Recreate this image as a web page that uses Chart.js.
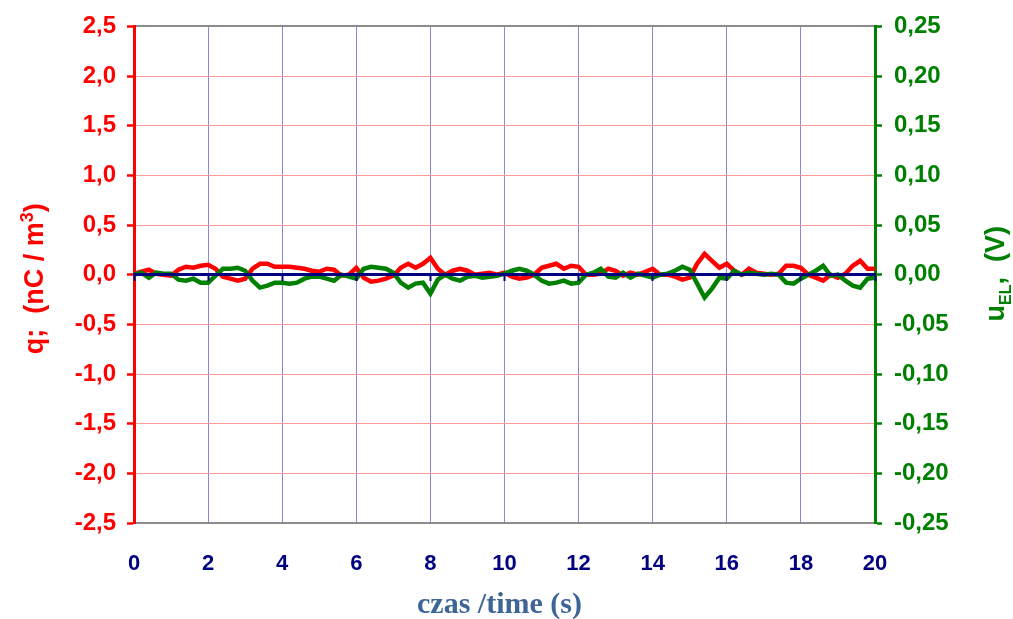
<!DOCTYPE html>
<html>
<head>
<meta charset="utf-8">
<script src="https://cdn.jsdelivr.net/npm/chart.js@4/dist/chart.umd.min.js"></script>
<style>
html, body { margin: 0; padding: 0; background: #fff; }
#wrap { width: 1013px; height: 619px; position: relative; }
</style>
</head>
<body>
<div id="wrap"><canvas id="chart"></canvas></div>
<script>
// sample times (s)
const times = [
    0, 0.2, 0.4, 0.6, 0.8, 1, 1.2, 1.4, 1.6, 1.8, 2, 2.2, 2.4, 2.6, 2.8, 3, 3.2, 3.4, 3.6, 3.8,
    4, 4.2, 4.4, 4.6, 4.8, 5, 5.2, 5.4, 5.6, 5.8, 6, 6.2, 6.4, 6.6, 6.8, 7, 7.2, 7.4, 7.6, 7.8,
    8, 8.2, 8.4, 8.6, 8.8, 9, 9.2, 9.4, 9.6, 9.8, 10, 10.2, 10.4, 10.6, 10.8, 11, 11.2, 11.4, 11.6, 11.8,
    12, 12.2, 12.4, 12.6, 12.8, 13, 13.2, 13.4, 13.6, 13.8, 14, 14.2, 14.4, 14.6, 14.8, 15, 15.2, 15.4, 15.6, 15.8,
    16, 16.2, 16.4, 16.6, 16.8, 17, 17.2, 17.4, 17.6, 17.8, 18, 18.2, 18.4, 18.6, 18.8, 19, 19.2, 19.4, 19.6, 19.8, 20
];
// q (nC/m3), red, left axis
const charge = [
    0.01, 0.03, 0.05, 0.01, 0.00, -0.01, 0.05, 0.08, 0.07, 0.09, 0.10, 0.06, -0.02, -0.04, -0.06, -0.04, 0.06, 0.11, 0.11, 0.08,
    0.08, 0.08, 0.07, 0.06, 0.04, 0.03, 0.06, 0.05, -0.01, 0.00, 0.07, -0.03, -0.07, -0.06, -0.04, -0.01, 0.07, 0.11, 0.07, 0.11,
    0.17, 0.06, 0.00, 0.04, 0.06, 0.04, 0.00, 0.01, 0.02, 0.00, 0.02, -0.02, -0.04, -0.03, 0.00, 0.07, 0.09, 0.11, 0.06, 0.09,
    0.08, 0.00, 0.00, 0.01, 0.06, 0.04, -0.01, 0.02, 0.00, 0.03, 0.06, 0.00, 0.00, -0.02, -0.05, -0.03, 0.11, 0.21, 0.14, 0.07,
    0.11, 0.04, 0.00, 0.06, 0.02, 0.01, 0.00, 0.01, 0.09, 0.09, 0.07, 0.00, -0.03, -0.06, 0.00, -0.03, 0.01, 0.09, 0.14, 0.06, 0.06
];
// uEL (V), green, right axis
const voltage = [
    0.000, 0.002, -0.003, 0.002, 0.001, 0.001, -0.005, -0.006, -0.004, -0.008, -0.008, -0.001, 0.006, 0.006, 0.007, 0.004, -0.006, -0.013, -0.011, -0.008,
    -0.008, -0.009, -0.008, -0.004, -0.002, -0.002, -0.004, -0.006, 0.000, -0.002, -0.004, 0.006, 0.008, 0.007, 0.006, 0.002, -0.008, -0.013, -0.009, -0.008,
    -0.019, -0.005, 0.000, -0.004, -0.006, -0.002, -0.001, -0.003, -0.002, -0.001, 0.001, 0.004, 0.006, 0.004, 0.000, -0.006, -0.009, -0.008, -0.006, -0.009,
    -0.008, 0.000, 0.002, 0.006, -0.002, -0.003, 0.002, -0.003, 0.001, -0.001, -0.003, 0.000, 0.001, 0.004, 0.008, 0.005, -0.009, -0.023, -0.014, -0.003,
    -0.004, 0.004, 0.000, 0.002, 0.001, 0.000, 0.001, 0.000, -0.008, -0.009, -0.004, 0.000, 0.004, 0.009, -0.001, 0.000, -0.006, -0.011, -0.013, -0.004, -0.003
];
const timeRange = [0, 20], timeStep = 2;
const qRange = [-2.5, 2.5], qStep = 0.5;
const uRange = [-0.25, 0.25], uStep = 0.05;

const SANS = '"Liberation Sans", Arial, sans-serif';
const tickFont = { family: SANS, size: 24, weight: 'bold' };
const comma = d => v => (Math.abs(v) < 1e-9 ? 0 : v).toFixed(d).replace('.', ',');

// rotated title made of parts (for sub/superscripts)
function verticalText(ctx, x, y, parts, color) {
    ctx.save();
    ctx.translate(x, y);
    ctx.rotate(-Math.PI / 2);
    ctx.fillStyle = color;
    ctx.textAlign = 'left';
    ctx.textBaseline = 'alphabetic';
    let total = 0;
    parts.forEach(p => { ctx.font = p.f; p.w = ctx.measureText(p.t).width; total += p.w; });
    let cx = -total / 2;
    parts.forEach(p => { ctx.font = p.f; ctx.fillText(p.t, cx, p.dy || 0); cx += p.w; });
    ctx.restore();
}

const axisTitles = {
    id: 'axisTitles',
    afterDraw(chart) {
        const { ctx, chartArea: a } = chart;
        const mid = (a.top + a.bottom) / 2;
        verticalText(ctx, 43, mid + 4, [
            { t: 'q;  (nC / m', f: 'bold 27px ' + SANS },
            { t: '3', f: 'bold 18px ' + SANS, dy: -10 },
            { t: ')', f: 'bold 27px ' + SANS }
        ], '#ff0000');
        verticalText(ctx, 1004, mid - 1, [
            { t: 'u', f: 'bold 27px ' + SANS },
            { t: 'EL', f: 'bold 16px ' + SANS, dy: 7 },
            { t: ',  (V)', f: 'bold 27px ' + SANS }
        ], '#008000');
        ctx.save();
        ctx.font = 'bold 30px "Liberation Serif", "Times New Roman", serif';
        ctx.fillStyle = '#3d6595';
        ctx.textAlign = 'center';
        ctx.textBaseline = 'alphabetic';
        ctx.fillText('czas /time (s)', (a.left + a.right) / 2 - 5, 613);
        ctx.restore();
    }
};

new Chart(document.getElementById('chart'), {
    type: 'line',
    data: {
        datasets: [
            { label: 'q', data: times.map((t, i) => ({ x: t, y: charge[i] })), yAxisID: 'y', borderColor: '#ff0000', borderWidth: 4.5, pointRadius: 0, tension: 0, order: 1 },
            { label: 'uEL', data: times.map((t, i) => ({ x: t, y: voltage[i] })), yAxisID: 'y2', borderColor: '#008000', borderWidth: 4.5, pointRadius: 0, tension: 0, order: 0 }
        ]
    },
    options: {
        responsive: true, maintainAspectRatio: false, animation: false,
        layout: { padding: { top: 25, left: 0, right: 0, bottom: 0 } },
        plugins: { legend: { display: false }, tooltip: { enabled: false } },
        scales: {
            x: {
                type: 'linear', position: 'bottom', min: timeRange[0], max: timeRange[1],
                ticks: { stepSize: timeStep, color: '#000080', font: { family: SANS, size: 22, weight: 'bold' }, padding: 28, maxRotation: 0 },
                grid: { color: '#8a8ad8', lineWidth: 1, drawTicks: false },
                border: { color: '#8c8c8c', width: 2 },
                afterFit: s => { s.height = 96; }
            },
            xTop: {
                type: 'linear', position: 'top', min: timeRange[0], max: timeRange[1],
                ticks: { display: false },
                grid: { drawOnChartArea: false, drawTicks: false },
                border: { color: '#8c8c8c', width: 2 },
                afterFit: s => { s.height = 0; }
            },
            // navy axis line crossing at q = 0, drawn over the traces
            xZero: {
                type: 'linear', position: { y: 0 }, min: timeRange[0], max: timeRange[1],
                ticks: { display: false, stepSize: timeStep, autoSkip: false },
                grid: { z: 1, drawOnChartArea: false, drawTicks: true, tickLength: 5, tickColor: '#000080', tickWidth: 2 },
                border: { z: 1, color: '#000080', width: 3 }
            },
            y: {
                position: 'left', min: qRange[0], max: qRange[1],
                ticks: { stepSize: qStep, color: '#ff0000', font: tickFont, padding: 11, callback: comma(1) },
                grid: { color: '#ff9a9a', lineWidth: 1, tickLength: 7, tickColor: '#ff0000', tickWidth: 2.5 },
                border: { color: '#ff0000', width: 3 },
                afterFit: s => { s.width = 134; }
            },
            y2: {
                position: 'right', min: uRange[0], max: uRange[1],
                ticks: { stepSize: uStep, color: '#008000', font: tickFont, padding: 12, callback: comma(2) },
                grid: { drawOnChartArea: false, tickLength: 7, tickColor: '#008000', tickWidth: 2.5 },
                border: { color: '#008000', width: 3 },
                afterFit: s => { s.width = 138; }
            }
        }
    },
    plugins: [axisTitles]
});
</script>
</body>
</html>
